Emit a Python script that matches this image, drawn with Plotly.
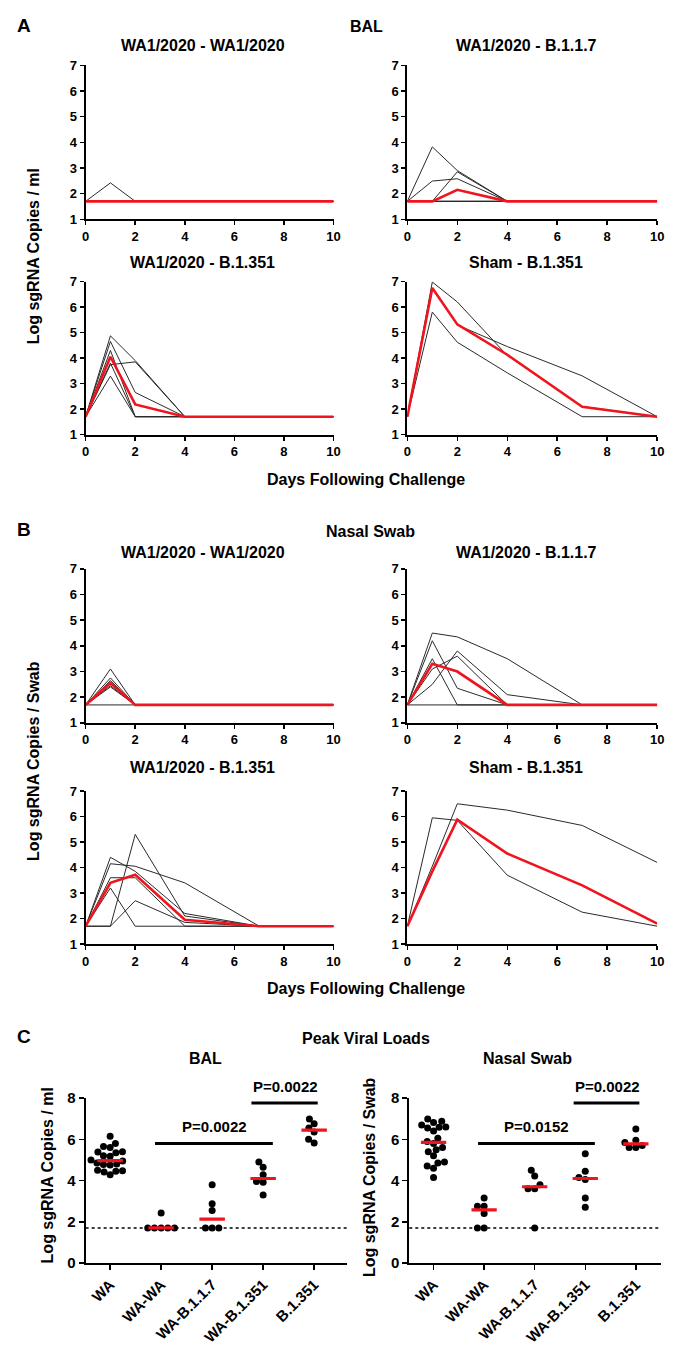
import math
import plotly.graph_objects as go

# ---------------- DATA ----------------
days = [0, 1, 2, 4, 7, 10]

bal_wa_wa = [
    [1.7, 2.42, 1.7, 1.7, 1.7, 1.7],
    [1.7, 1.7, 1.7, 1.7, 1.7, 1.7],
    [1.7, 1.7, 1.7, 1.7, 1.7, 1.7],
    [1.7, 1.7, 1.7, 1.7, 1.7, 1.7],
    [1.7, 1.7, 1.7, 1.7, 1.7, 1.7],
    [1.7, 1.7, 1.7, 1.7, 1.7, 1.7],
]
bal_wa_wa_med = [1.7, 1.7, 1.7, 1.7, 1.7, 1.7]

bal_wa_b117 = [
    [1.7, 3.82, 2.9, 1.7, 1.7, 1.7],
    [1.7, 2.49, 2.58, 1.7, 1.7, 1.7],
    [1.7, 1.7, 2.85, 1.7, 1.7, 1.7],
    [1.7, 1.7, 1.7, 1.7, 1.7, 1.7],
    [1.7, 1.7, 1.7, 1.7, 1.7, 1.7],
    [1.7, 1.7, 1.7, 1.7, 1.7, 1.7],
]
bal_wa_b117_med = [1.7, 1.7, 2.15, 1.7, 1.7, 1.7]

bal_wa_b1351 = [
    [1.7, 4.87, 3.9, 1.7, 1.7, 1.7],
    [1.7, 4.65, 2.65, 1.7, 1.7, 1.7],
    [1.7, 3.74, 3.85, 1.7, 1.7, 1.7],
    [1.7, 4.3, 1.7, 1.7, 1.7, 1.7],
    [1.7, 3.8, 1.7, 1.7, 1.7, 1.7],
    [1.7, 3.29, 1.7, 1.7, 1.7, 1.7],
]
bal_wa_b1351_med = [1.7, 4.05, 2.18, 1.7, 1.7, 1.7]

bal_sham_b1351 = [
    [1.7, 6.98, 6.2, 4.1, 2.1, 1.7],
    [1.7, 6.75, 5.3, 4.45, 3.3, 1.7],
    [1.7, 5.8, 4.62, 3.42, 1.7, 1.7],
]
bal_sham_b1351_med = [1.7, 6.75, 5.32, 4.13, 2.09, 1.7]

nasal_wa_wa = [
    [1.7, 3.1, 1.7, 1.7, 1.7, 1.7],
    [1.7, 2.75, 1.7, 1.7, 1.7, 1.7],
    [1.7, 2.65, 1.7, 1.7, 1.7, 1.7],
    [1.7, 2.45, 1.7, 1.7, 1.7, 1.7],
    [1.7, 2.4, 1.7, 1.7, 1.7, 1.7],
    [1.7, 1.7, 1.7, 1.7, 1.7, 1.7],
]
nasal_wa_wa_med = [1.7, 2.55, 1.7, 1.7, 1.7, 1.7]

nasal_wa_b117 = [
    [1.7, 4.5, 4.35, 3.5, 1.7, 1.7],
    [1.7, 4.2, 2.35, 1.7, 1.7, 1.7],
    [1.7, 3.5, 1.7, 1.7, 1.7, 1.7],
    [1.7, 2.5, 3.8, 2.1, 1.7, 1.7],
    [1.7, 3.1, 3.6, 1.7, 1.7, 1.7],
    [1.7, 1.7, 1.7, 1.7, 1.7, 1.7],
]
nasal_wa_b117_med = [1.7, 3.3, 3.0, 1.7, 1.7, 1.7]

nasal_wa_b1351 = [
    [1.7, 4.15, 4.05, 3.4, 1.7, 1.7],
    [1.7, 4.4, 3.85, 2.2, 1.7, 1.7],
    [1.7, 3.6, 3.6, 1.7, 1.7, 1.7],
    [1.7, 1.7, 5.3, 2.1, 1.7, 1.7],
    [1.7, 3.2, 1.7, 1.7, 1.7, 1.7],
    [1.7, 1.7, 2.7, 1.85, 1.7, 1.7],
]
nasal_wa_b1351_med = [1.7, 3.4, 3.72, 1.95, 1.7, 1.7]

nasal_sham_b1351 = [
    [1.7, 5.95, 5.85, 3.7, 2.25, 1.7],
    [1.7, 4.05, 6.5, 6.25, 5.65, 4.2],
    [1.7, 3.85, 5.88, 4.55, 3.3, 1.8],
]
nasal_sham_b1351_med = [1.7, 3.85, 5.88, 4.55, 3.3, 1.8]

panel_titles = ["WA1/2020 - WA1/2020", "WA1/2020 - B.1.1.7",
                "WA1/2020 - B.1.351", "Sham - B.1.351"]

peak_categories = ["WA", "WA-WA", "WA-B.1.1.7", "WA-B.1.351", "B.1.351"]
peak_bal = [
    [6.15, 5.8, 5.65, 5.6, 5.4, 5.38, 5.35, 5.2, 5.18, 5.0,
     4.95, 4.85, 4.8, 4.78, 4.75, 4.5, 4.47, 4.45, 4.42, 4.28],
    [2.42, 1.7, 1.7, 1.7, 1.7, 1.7],
    [3.8, 2.88, 2.55, 1.7, 1.7, 1.7],
    [4.9, 4.65, 4.28, 3.95, 3.92, 3.3],
    [6.98, 6.75, 6.55, 6.35, 6.0, 5.82],
]
peak_bal_med = [4.97, 1.7, 2.13, 4.1, 6.45]
peak_nasal = [
    [6.98, 6.88, 6.82, 6.7, 6.6, 6.58, 6.55, 6.4, 6.05, 5.9,
     5.8, 5.6, 5.5, 5.4, 5.2, 4.9, 4.85, 4.7, 4.6, 4.15],
    [3.15, 2.75, 2.75, 2.4, 1.7, 1.7],
    [4.5, 4.22, 3.8, 3.6, 3.6, 1.7],
    [5.3, 4.45, 4.15, 4.05, 3.15, 2.7],
    [6.5, 5.95, 5.85, 5.7, 5.6, 5.6],
]
peak_nasal_med = [5.85, 2.58, 3.7, 4.1, 5.78]
detection_limit = 1.7
p_bal = ["P=0.0022", "P=0.0022"]
p_nasal = ["P=0.0152", "P=0.0022"]

# ---------------- LAYOUT HELPERS ----------------
W, H = 675, 1349
FONT = "Liberation Sans, Arial, sans-serif"
RED = "#f0141e"


def fx(x):
    return x / W


def fy(y):
    return 1 - y / H


def ax_name(k, axis):
    return f"{axis}axis" if k == 1 else f"{axis}axis{k}"


def ref(k, axis):
    return axis if k == 1 else f"{axis}{k}"


fig = go.Figure()
layout = {}
annotations = []
shapes = []

time_panels = [
    (83, 335, 57, 213), (410, 664, 57, 213),
    (83, 335, 276, 431), (410, 664, 276, 431),
    (83, 335, 567, 723), (410, 664, 567, 723),
    (83, 335, 792, 947), (410, 664, 792, 947),
]
time_data = [
    (bal_wa_wa, bal_wa_wa_med), (bal_wa_b117, bal_wa_b117_med),
    (bal_wa_b1351, bal_wa_b1351_med), (bal_sham_b1351, bal_sham_b1351_med),
    (nasal_wa_wa, nasal_wa_wa_med), (nasal_wa_b117, nasal_wa_b117_med),
    (nasal_wa_b1351, nasal_wa_b1351_med), (nasal_sham_b1351, nasal_sham_b1351_med),
]
title_y = [37, 37, 257, 257, 550, 550, 768, 768]

axis_common = dict(showline=True, linecolor="black", linewidth=2,
                   ticks="outside", ticklen=4, tickwidth=1.5, tickcolor="black",
                   showgrid=False, zeroline=False,
                   tickfont=dict(family=FONT, size=13, color="black", weight="bold"))

for i, ((x0, x1, yt, yb), (animals, med)) in enumerate(zip(time_panels, time_data)):
    k = i + 1
    layout[ax_name(k, "x")] = dict(domain=[fx(x0), fx(x1)], anchor=ref(k, "y"),
                                   range=[0, 10], tickvals=[0, 2, 4, 6, 8, 10],
                                   **axis_common)
    layout[ax_name(k, "y")] = dict(domain=[fy(yb), fy(yt)], anchor=ref(k, "x"),
                                   range=[1, 7], tickvals=[1, 2, 3, 4, 5, 6, 7],
                                   **axis_common)
    for a in animals:
        fig.add_trace(go.Scatter(x=days, y=a, mode="lines",
                                 line=dict(color="#2a2a2a", width=1),
                                 xaxis=ref(k, "x"), yaxis=ref(k, "y"),
                                 showlegend=False, hoverinfo="skip"))
    fig.add_trace(go.Scatter(x=days, y=med, mode="lines",
                             line=dict(color=RED, width=2.6),
                             xaxis=ref(k, "x"), yaxis=ref(k, "y"),
                             showlegend=False))
    cx = 202 if x0 < 200 else 531
    annotations.append(dict(x=fx(cx), y=fy(title_y[i]), xref="paper", yref="paper",
                            text=panel_titles[i % 4], showarrow=False,
                            xanchor="center", yanchor="middle",
                            font=dict(family=FONT, size=16, color="black", weight="bold")))


# ---------------- PEAK PANELS ----------------
def swarm(vals, ppx, ppy, d=6.8):
    placed = []
    res = [0.0] * len(vals)
    order = sorted(range(len(vals)), key=lambda j: vals[j])
    for j in order:
        y = vals[j] * ppy
        cands = [0.0]
        for (qx, qy) in placed:
            dy = y - qy
            if abs(dy) < d:
                dx = math.sqrt(d * d - dy * dy)
                cands += [qx + dx, qx - dx]
        cands.sort(key=lambda c: (round(abs(c), 6), c))
        chosen = 0.0
        for c in cands:
            if all((c - qx) ** 2 + (y - qy) ** 2 >= d * d - 1e-6 for qx, qy in placed):
                chosen = c
                break
        placed.append((chosen, y))
        res[j] = chosen / ppx
    return res


peak_panels = [
    (9, 83, 349, 1103, 1270, [-0.48, 4.65], peak_bal, peak_bal_med, p_bal),
    (10, 412, 668, 1103, 1270, [-0.48, 4.5], peak_nasal, peak_nasal_med, p_nasal),
]
for (k, x0, x1, yt, yb, xr, groups, meds, pvals) in peak_panels:
    big = dict(axis_common)
    big["tickfont"] = dict(family=FONT, size=15, color="black", weight="bold")
    big["ticklen"] = 5
    layout[ax_name(k, "x")] = dict(domain=[fx(x0), fx(x1)], anchor=ref(k, "y"),
                                   range=xr, tickvals=list(range(len(peak_categories))),
                                   ticktext=peak_categories, tickangle=-45, **big)
    layout[ax_name(k, "y")] = dict(domain=[fy(yb), fy(yt)], anchor=ref(k, "x"),
                                   range=[0, 8], tickvals=[0, 2, 4, 6, 8], **big)
    ppx = (x1 - x0) / (xr[1] - xr[0])
    ppy = (yb - yt) / 8.0
    # detection limit
    shapes.append(dict(type="line", xref=f"x{k} domain", yref=f"y{k}",
                       x0=0, x1=1, y0=detection_limit, y1=detection_limit,
                       line=dict(color="black", width=1.5, dash="dot"), layer="below"))
    xs, ys = [], []
    for gi, vals in enumerate(groups):
        offs = swarm(vals, ppx, ppy)
        xs += [gi + o for o in offs]
        ys += vals
    fig.add_trace(go.Scatter(x=xs, y=ys, mode="markers",
                             marker=dict(color="black", size=7, line=dict(width=0)),
                             xaxis=f"x{k}", yaxis=f"y{k}", showlegend=False))
    mx, my = [], []
    for gi, m in enumerate(meds):
        mx += [gi - 0.25, gi + 0.25, None]
        my += [m, m, None]
    fig.add_trace(go.Scatter(x=mx, y=my, mode="lines",
                             line=dict(color=RED, width=3.2),
                             xaxis=f"x{k}", yaxis=f"y{k}", showlegend=False))
    # significance bars (label positions in pixels converted to paper coords)
    bars = [((0.88, 3.19), 5.8, 6.62, 2.04, pvals[0]),
            ((2.77, 4.07), 7.76, 8.55, 3.43, pvals[1])]
    for (bx0, bx1), by, ly, lx, txt in bars:
        shapes.append(dict(type="line", xref=f"x{k}", yref=f"y{k}",
                           x0=bx0, x1=bx1, y0=by, y1=by,
                           line=dict(color="black", width=3)))
        lpx = x0 + (lx - xr[0]) * ppx
        lpy = yb - ly * ppy
        annotations.append(dict(x=fx(lpx), y=fy(lpy), xref="paper", yref="paper",
                                text=txt, showarrow=False,
                                xanchor="center", yanchor="middle",
                                font=dict(family=FONT, size=15, color="black",
                                          weight="bold")))

# ---------------- TEXT ----------------
texts = [
    ("A", 20, 17, 19, 0), ("BAL", 369, 18, 16, 0),
    ("B", 20, 527, 19, 0), ("Nasal Swab", 373, 529, 16, 0),
    ("C", 20, 1041, 19, 0), ("Peak Viral Loads", 368, 1043, 16, 0),
    ("Days Following Challenge", 368, 477, 16, 0),
    ("Days Following Challenge", 368, 992, 16, 0),
    ("Log sgRNA Copies / ml", 30, 251, 16, -90),
    ("Log sgRNA Copies / Swab", 30, 762, 16, -90),
    ("BAL", 205, 1063, 16, 0), ("Nasal Swab", 532, 1063, 16, 0),
    ("Log sgRNA Copies / ml", 44, 1181, 16, -90),
    ("Log sgRNA Copies / Swab", 371, 1183, 16, -90),
]
for t, x, y, s, ang in texts:
    annotations.append(dict(x=fx(x), y=fy(y), xref="paper", yref="paper", text=t,
                            showarrow=False, xanchor="center", yanchor="middle",
                            textangle=ang,
                            font=dict(family=FONT, size=s, color="black", weight="bold")))

fig.update_layout(width=W, height=H, autosize=False,
                  margin=dict(l=0, r=0, t=0, b=0),
                  paper_bgcolor="white", plot_bgcolor="white",
                  showlegend=False, annotations=annotations, shapes=shapes,
                  **layout)
fig.write_html("out.html",
               config={"displayModeBar": False, "staticPlot": True},
               post_script="document.body.style.margin='0px';"
                           "document.body.style.padding='0px';"
                           "document.body.style.overflow='hidden';")
